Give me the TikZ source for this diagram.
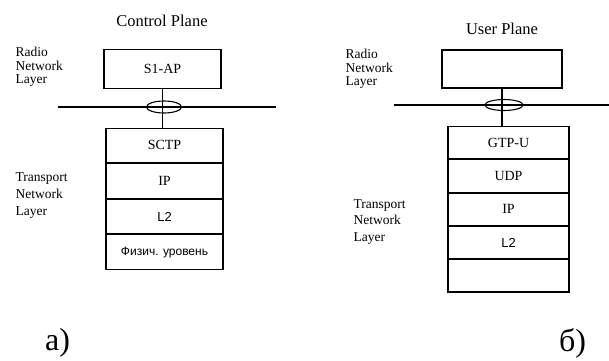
\documentclass[tikz,border=0pt]{standalone}
\usepackage{fontspec}
\setmainfont{Liberation Serif}
\newfontfamily\sansf{Liberation Sans}
\usetikzlibrary{shapes.geometric, positioning}

\begin{document}
\begin{tikzpicture}[
  x=1pt, y=-1pt,
  node distance=0pt,
  line width=1.1pt,
  title/.style={inner sep=0pt, font=\fontsize{16.5}{18}\selectfont},
  box/.style={draw, inner sep=0pt, minimum height=39pt, font=\fontsize{14}{16}\selectfont},
  row/.style={draw, inner sep=0pt, font=\fontsize{14}{16}\selectfont},
  crow/.style={row, minimum width=117pt, minimum height=34.5pt},
  urow/.style={row, minimum width=121pt, minimum height=32.2pt},
  ring/.style={draw, ellipse, inner sep=0pt},
  layer/.style={align=left, anchor=north west, inner sep=0pt, font=\fontsize{13.5}{#1}\selectfont},
  caption/.style={inner sep=0pt, font=\fontsize{32}{36}\selectfont},
]
\useasboundingbox (0,0) rectangle (609,360);

% Control plane
\node[title] (ctitle) at (162,21) {Control Plane};
\node[layer=13.5] (cradio) at (15,47) {Radio\\Network\\Layer};
\node[box, minimum width=117pt] (s1ap) at (162.5,69) {S1-AP};
\coordinate (cbusw) at (58,107);
\coordinate (cbuse) at (276,107);
\draw (cbusw) -- (cbuse);
\node[ring, minimum width=35pt, minimum height=12pt] (cring) at (164,107) {};
\node[crow, anchor=north] (sctp) at (164.5,127.5) {SCTP};
\node[crow, below=of sctp] (cip) {IP};
\node[crow, below=of cip, font=\sansf\fontsize{13}{15}\selectfont] (cl2) {L2};
\node[crow, below=of cl2, font=\sansf\fontsize{12}{14}\selectfont] (phy) {Физич. уровень};
\node[layer=17] (ctrans) at (15,172) {Transport\\Network\\Layer};
\draw (s1ap.south) -- (s1ap.south |- sctp.north);

% User plane
\node[title] (utitle) at (502,29) {User Plane};
\node[layer=13.5] (uradio) at (345,49) {Radio\\Network\\Layer};
\node[box, minimum width=120pt, minimum height=38pt] (upper) at (502,69) {};
\coordinate (ubusw) at (394,105);
\coordinate (ubuse) at (609,105);
\draw (ubusw) -- (ubuse);
\node[ring, minimum width=38pt, minimum height=11pt] (uring) at (504,105) {};
\node[urow, anchor=north] (gtpu) at (508.5,126) {GTP-U};
\node[urow, below=of gtpu] (udp) {UDP};
\node[urow, below=of udp] (uip) {IP};
\node[urow, below=of uip, font=\sansf\fontsize{13}{15}\selectfont] (ul2) {L2};
\node[urow, below=of ul2] (uphy) {};
\node[layer=16.5] (utrans) at (353,199) {Transport\\Network\\Layer};
\draw (upper.south) -- (upper.south |- gtpu.north);

% Captions
\node[caption] (capa) at (57.5,343) {а)};
\node[caption] (capb) at (572.5,343) {б)};

\end{tikzpicture}
\end{document}
